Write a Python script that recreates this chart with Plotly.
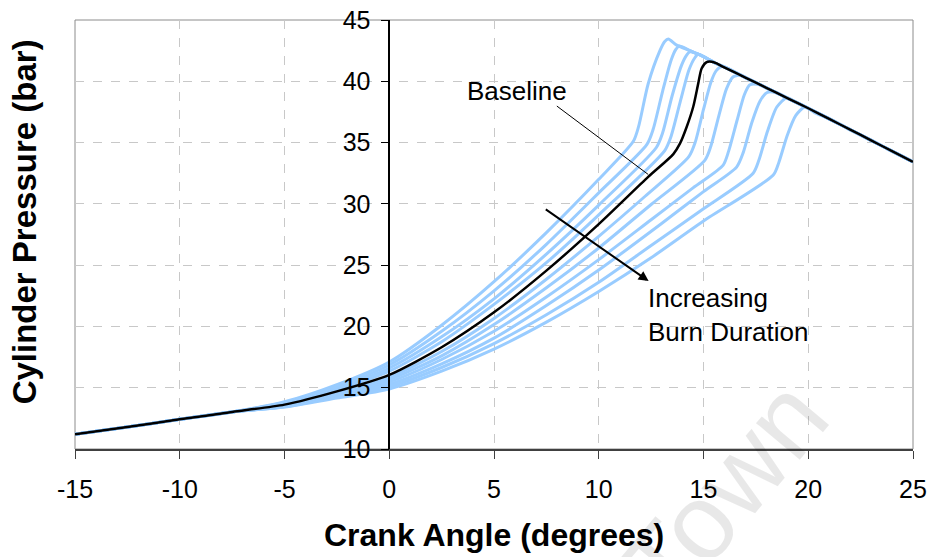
import plotly.graph_objects as go

# ---- data (crank angle in degrees, pressure in bar) ----
exp_x = [16, 17, 18, 19, 20, 21, 22, 23, 24, 25]
exp_p = [41.15, 40.3, 39.47, 38.63, 37.8, 36.93, 36.06, 35.18, 34.3, 33.43]

start_x = [-15, -12.5, -10, -7.5]
start_p = [11.2, 11.8, 12.42, 13.02]

# blue curves (shorter burn -> longer burn); the baseline is listed separately
c1_x = [-5, -2.5, 0, 2.5, 5, 7.5, 10, 11.65, 11.9, 12.36, 12.92, 13.15, 13.32, 13.72, 14.35, 14.83, 15.23, 15.6]
c1_p = [13.85, 15.25, 17.1, 20.1, 23.65, 27.65, 32.0, 35.1, 36.3, 39.8, 42.5, 43.25, 43.45, 42.95, 42.5, 42.15, 41.8, 41.45]

c2_x = [-5, -2.5, 0, 2.5, 5, 7.5, 10, 12.3, 12.6, 13.05, 13.45, 13.68, 13.84, 14.35, 14.83, 15.23, 15.6]
c2_p = [13.8, 15.1, 16.85, 19.6, 22.9, 26.7, 30.9, 34.85, 36.1, 39.2, 41.7, 42.6, 42.87, 42.5, 42.15, 41.8, 41.45]

c3_x = [-5, -2.5, 0, 2.5, 5, 7.5, 10, 12.75, 13.05, 13.5, 13.95, 14.18, 14.35, 14.83, 15.23, 15.6]
c3_p = [13.75, 14.97, 16.6, 19.15, 22.25, 25.9, 29.9, 34.6, 35.8, 38.8, 41.3, 42.1, 42.4, 42.15, 41.8, 41.45]

c4_x = [-5, -2.5, 0, 2.5, 5, 7.5, 10, 13.15, 13.45, 13.9, 14.3, 14.58, 14.75, 15.23, 15.6]
c4_p = [13.7, 14.84, 16.35, 18.75, 21.8, 25.2, 29.1, 34.35, 35.5, 38.4, 40.9, 41.9, 42.2, 41.8, 41.45]

base_x = [-5, -2.5, 0, 2.5, 5, 7.5, 10, 12.36, 13.56, 13.88, 14.2, 14.51, 14.75, 14.91, 15.15, 15.39, 15.63, 15.94]
base_p = [13.62, 14.7, 16.05, 18.3, 21.15, 24.55, 28.35, 32.2, 34.06, 34.93, 36.29, 37.92, 39.83, 41.05, 41.57, 41.6, 41.46, 41.18]

c6_x = [-5, -2.5, 0, 2.5, 5, 7.5, 10, 12.2, 14.3, 14.6, 15.0, 15.35, 15.6, 15.9]
c6_p = [13.58, 14.6, 15.85, 17.95, 20.65, 23.85, 27.35, 30.6, 33.85, 35.0, 37.7, 39.9, 40.85, 41.2]

c7_x = [-5, -2.5, 0, 2.5, 5, 7.5, 10, 12.5, 15.07, 15.35, 15.75, 16.1, 16.42, 16.8, 17]
c7_p = [13.54, 14.5, 15.66, 17.6, 20.15, 23.15, 26.4, 29.95, 33.57, 34.7, 37.3, 39.4, 40.37, 40.5, 40.3]

c8_x = [-5, -2.5, 0, 2.5, 5, 7.5, 10, 12.5, 14.5, 15.94, 16.2, 16.6, 16.95, 17.2, 17.6, 18]
c8_p = [13.5, 14.41, 15.47, 17.3, 19.6, 22.4, 25.45, 28.7, 31.3, 33.16, 34.3, 36.8, 38.9, 39.7, 39.75, 39.47]

c9_x = [-5, -2.5, 0, 2.5, 5, 7.5, 10, 13.0, 15.0, 16.58, 16.9, 17.3, 17.7, 18.05, 18.5, 19]
c9_p = [13.47, 14.32, 15.28, 16.95, 19.05, 21.7, 24.6, 28.4, 31.0, 33.0, 34.2, 36.6, 38.4, 39.1, 39.05, 38.63]

c10_x = [-5, -2.5, 0, 2.5, 5, 7.5, 10, 12.5, 15.0, 17.37, 17.65, 18.05, 18.5, 18.97, 19.4, 20]
c10_p = [13.44, 14.23, 15.09, 16.65, 18.6, 20.95, 23.6, 26.6, 29.6, 32.5, 33.6, 35.9, 37.9, 38.65, 38.3, 37.8]

c11_x = [-5, -2.5, 0, 2.5, 5, 7.5, 10, 12.5, 15.0, 18.33, 18.6, 19.0, 19.4, 19.84, 20.3, 21]
c11_p = [13.42, 14.15, 14.9, 16.35, 18.15, 20.35, 22.85, 25.6, 28.6, 32.35, 33.4, 35.6, 37.2, 37.9, 37.45, 36.93]

blue_curves = [(c1_x, c1_p), (c2_x, c2_p), (c3_x, c3_p), (c4_x, c4_p),
               (c6_x, c6_p), (c7_x, c7_p), (c8_x, c8_p), (c9_x, c9_p),
               (c10_x, c10_p), (c11_x, c11_p)]

x_ticks = [-15, -10, -5, 0, 5, 10, 15, 20, 25]
y_ticks = [10, 15, 20, 25, 30, 35, 40, 45]

BLUE = "#99ccff"
FONT = "Arial, Liberation Sans, sans-serif"


def full_curve(cx, cp):
    xs = list(start_x) + list(cx)
    ps = list(start_p) + list(cp)
    last = xs[-1]
    for ex, ep in zip(exp_x, exp_p):
        if ex > last + 0.2:
            xs.append(ex)
            ps.append(ep)
    return xs, ps


fig = go.Figure()
for cx, cp in blue_curves:
    xs, ps = full_curve(cx, cp)
    fig.add_trace(go.Scatter(x=xs, y=ps, mode="lines",
                             line=dict(color=BLUE, width=3, shape="spline", smoothing=0.7),
                             hoverinfo="skip"))
bx, bp = full_curve(base_x, base_p)
fig.add_trace(go.Scatter(x=bx, y=bp, mode="lines",
                         line=dict(color="black", width=2.5, shape="spline", smoothing=0.7),
                         hoverinfo="skip"))

fig.update_layout(
    width=933, height=557,
    margin=dict(l=75, r=20, t=20, b=108),
    plot_bgcolor="white", paper_bgcolor="white",
    showlegend=False,
    font=dict(family=FONT, color="black"),
    xaxis=dict(range=[-15, 25], tickvals=x_ticks, ticktext=[str(v) for v in x_ticks],
               automargin=False,
               showgrid=True, gridcolor="#c8c8c8", griddash="dash", gridwidth=1,
               showline=True, linecolor="#404040", linewidth=1.5,
               ticks="outside", ticklen=8, tickcolor="#404040",
               tickfont=dict(size=25, family=FONT), zeroline=False,
               ticklabelstandoff=9),
    yaxis=dict(range=[10, 45], tickvals=y_ticks, ticktext=[str(v) for v in y_ticks],
               anchor="free", position=0.375, automargin=False,
               showgrid=True, gridcolor="#c8c8c8", griddash="dash", gridwidth=1,
               showline=True, linecolor="black", linewidth=1.5,
               ticks="outside", ticklen=8, tickcolor="black",
               tickfont=dict(size=25, family=FONT), zeroline=False,
               ticklabelstandoff=5),
)

fig.add_shape(type="rect", xref="paper", yref="paper", x0=0, x1=1, y0=0, y1=1,
              line=dict(color="#8c8c8c", width=1), layer="below")

# leader line for "Baseline"
fig.add_shape(type="line", xref="x", yref="y", x0=8.0, y0=37.98, x1=12.36, y1=32.4,
              line=dict(color="black", width=1))

fig.add_annotation(text="Baseline", x=3.6, y=39.2, xref="x", yref="y",
                   xanchor="left", yanchor="middle", showarrow=False,
                   font=dict(size=26, family=FONT, color="black"))
fig.add_annotation(text="Increasing<br>Burn Duration", x=12.25, y=20.9, xref="x", yref="y",
                   xanchor="left", yanchor="middle", align="left", showarrow=False,
                   font=dict(size=26, family=FONT, color="black"))
fig.add_annotation(text="", x=12.38, y=23.7, ax=7.4, ay=29.63, xref="x", yref="y",
                   axref="x", ayref="y", showarrow=True, arrowhead=2, arrowsize=1,
                   arrowwidth=2, arrowcolor="black")

fig.add_annotation(text="<b>Crank Angle (degrees)</b>", x=0.5, y=-0.2, xref="paper", yref="paper",
                   xanchor="center", yanchor="middle", showarrow=False,
                   font=dict(size=32, family=FONT, color="black"))
fig.add_annotation(text="<b>Cylinder Pressure (bar)</b>", x=-0.06, y=0.53, xref="paper", yref="paper",
                   xanchor="center", yanchor="middle", textangle=-90, showarrow=False,
                   font=dict(size=33, family=FONT, color="black"))

# faint watermark
fig.add_annotation(text="Town", x=0.775, y=-0.1, xref="paper", yref="paper",
                   xanchor="center", yanchor="middle", textangle=-50, showarrow=False,
                   font=dict(size=108, family=FONT, color="rgba(0,0,0,0.09)"))

fig.write_html("out.html")
